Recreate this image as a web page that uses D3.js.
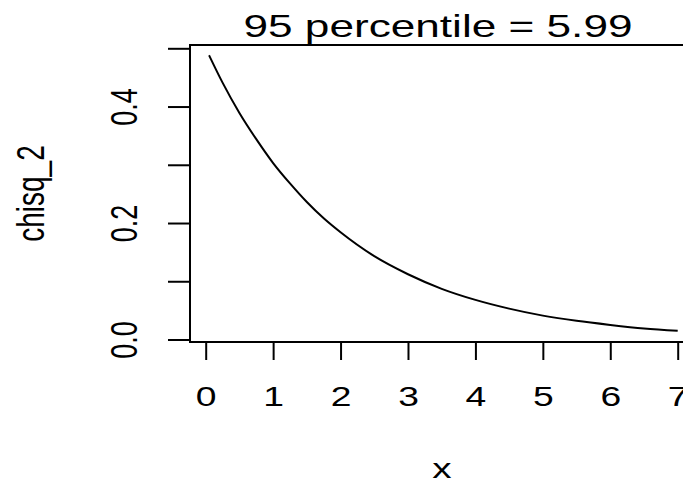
<!DOCTYPE html>
<html>
<head>
<meta charset="utf-8">
<script src="https://cdn.jsdelivr.net/npm/d3@7"></script>
<style>
  body { margin: 0; background: #fff; }
  svg { display: block; }
  text { font-family: "Liberation Sans", Arial, Helvetica, sans-serif; fill: #000; }
</style>
</head>
<body>
<script>
// chi-square (df = 2) density
var xVals = [0.05, 0.25, 0.5, 0.75, 1, 1.25, 1.5, 1.75, 2, 2.5, 3, 3.5, 4, 4.5, 5, 5.5, 6, 6.5, 7];
var yVals = [0.488, 0.441, 0.389, 0.344, 0.303, 0.268, 0.236, 0.208, 0.184, 0.143, 0.112, 0.087, 0.068, 0.053, 0.041, 0.032, 0.025, 0.019, 0.015];
var xTicks = [0, 1, 2, 3, 4, 5, 6, 7];
var yTicks = [0, 0.1, 0.2, 0.3, 0.4, 0.5];
var yTickLabels = ['0.0', '', '0.2', '', '0.4', ''];
var titleText = '95 percentile = 5.99';
var xTitle = 'x', yTitle = 'chisq_2';

var W = 683, H = 484;
var box = {left: 190, top: 45, right: 686, bottom: 342};
var stretch = 1.38; // the original picture is wider than it is tall, glyphs are stretched sideways

var svg = d3.select('body').append('svg').attr('width', W).attr('height', H);

var x = d3.scaleLinear().domain([0, 7]).range([205.7, 677.7]);
var y = d3.scaleLinear().domain([0, 0.5]).range([339.5, 48.3]);

// places a text at (px,py), stretched sideways, optionally turned upright
function placeText(sel, px, py, rot) {
  sel.attr('x', 0).attr('y', 0).attr('dy', null)
    .attr('transform', 'translate(' + px + ',' + py + ') scale(' + stretch + ',1)' + (rot ? ' rotate(-90)' : ''));
}

// plot box
svg.append('rect')
  .attr('x', box.left).attr('y', box.top)
  .attr('width', box.right - box.left).attr('height', box.bottom - box.top)
  .attr('fill', 'none').attr('stroke', '#000').attr('stroke-width', 2);

// x axis (ticks hang under the box)
var gx = svg.append('g').attr('transform', 'translate(0,' + box.bottom + ')')
  .call(d3.axisBottom(x).tickValues(xTicks).tickSize(18).tickFormat(d3.format('d')));
gx.select('.domain').remove();
gx.selectAll('line').attr('stroke', '#000').attr('stroke-width', 2);
gx.selectAll('text').attr('font-size', 27).attr('font-family', null)
  .each(function(){ placeText(d3.select(this), 0, 406 - box.bottom, false); });

// y axis, labels turned upright
var gy = svg.append('g').attr('transform', 'translate(' + box.left + ',0)')
  .call(d3.axisLeft(y).tickValues(yTicks).tickSize(22).tickFormat(function(d, i){ return yTickLabels[i]; }));
gy.select('.domain').remove();
gy.selectAll('line').attr('stroke', '#000').attr('stroke-width', 2);
gy.selectAll('text')
  .attr('font-size', 27).attr('font-family', null)
  .attr('text-anchor', 'middle')
  .each(function(){ placeText(d3.select(this), 137 - box.left, 0, true); });

// curve
var line = d3.line()
  .x(function(d){ return x(d[0]); })
  .y(function(d){ return y(d[1]); })
  .curve(d3.curveMonotoneX);
svg.append('path')
  .datum(d3.zip(xVals, yVals))
  .attr('d', line)
  .attr('fill', 'none').attr('stroke', '#000').attr('stroke-width', 2);

// titles
var cx = (box.left + box.right) / 2;
svg.append('text').attr('text-anchor', 'middle').attr('font-size', 32).text(titleText)
  .call(placeText, cx, 37, false);
svg.append('text').attr('text-anchor', 'middle').attr('font-size', 28).text(xTitle)
  .call(placeText, cx + 4, 478, false);
svg.append('text').attr('text-anchor', 'middle').attr('font-size', 28).text(yTitle)
  .call(placeText, 44, (box.top + box.bottom) / 2, true);
</script>
</body>
</html>
